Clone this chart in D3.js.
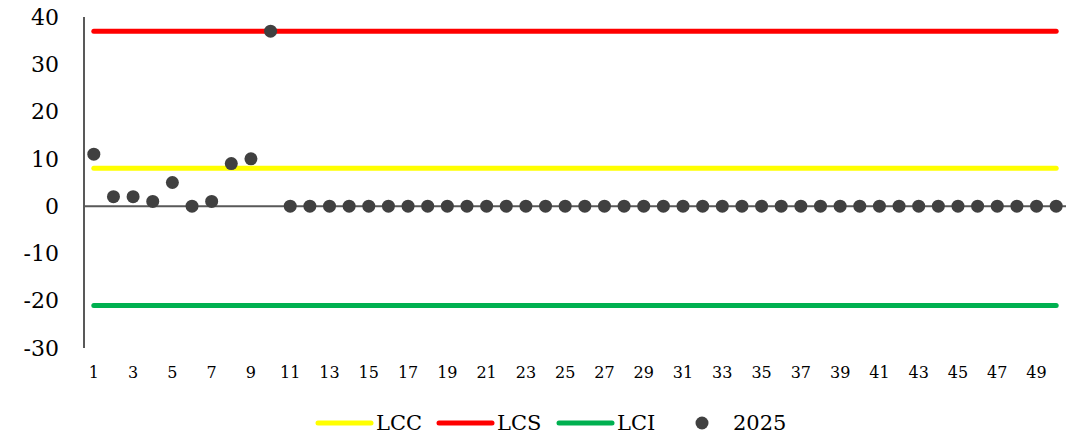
<!DOCTYPE html>
<html><head><meta charset="utf-8">
<script src="https://cdn.jsdelivr.net/npm/d3@7"></script>
<style>body{margin:0;background:#fff}svg{display:block}</style>
</head><body>
<svg id="c" width="1078" height="438"></svg>
<script>
const categories = d3.range(1, 51).map(String);
const values2025 = [11,2,2,1,5,0,1,9,10,37, 0,0,0,0,0,0,0,0,0,0, 0,0,0,0,0,0,0,0,0,0, 0,0,0,0,0,0,0,0,0,0, 0,0,0,0,0,0,0,0,0,0];
const lcc = 8, lcs = 37, lci = -21;
const yTicks = [-30,-20,-10,0,10,20,30,40];
const xTickLabels = categories.filter((d,i)=>i%2===0);

const svg = d3.select("#c");
const font = "'DejaVu Serif', 'Liberation Serif', serif";
const x = d3.scaleBand().domain(categories).range([84, 1066]);
const y = d3.scaleLinear().domain([-30, 40]).range([348, 17]);
const cx = d => x(d) + x.bandwidth()/2;

// y axis line
svg.append("line").attr("x1",84).attr("x2",84).attr("y1",y(40)).attr("y2",y(-30))
  .attr("stroke","#595959").attr("stroke-width",2);
// y labels
svg.selectAll(".yl").data(yTicks).join("text")
  .attr("x",59).attr("y",d=>y(d)).attr("dy","0.35em").attr("text-anchor","end")
  .attr("font-family",font).attr("font-size",22).attr("fill","#000").text(d=>d);
// zero line
svg.append("line").attr("x1",84).attr("x2",1066).attr("y1",y(0)).attr("y2",y(0))
  .attr("stroke","#595959").attr("stroke-width",2);
// x labels
svg.selectAll(".xl").data(xTickLabels).join("text")
  .attr("x",d=>cx(d)).attr("y",378).attr("text-anchor","middle")
  .attr("font-family",font).attr("font-size",16).attr("fill","#000").text(d=>d);

const limits = [{v:lcc,c:"#FFFF00"},{v:lcs,c:"#FF0000"},{v:lci,c:"#00B050"}];
svg.selectAll(".lim").data(limits).join("line")
  .attr("x1",cx(categories[0])).attr("x2",cx(categories[categories.length-1]))
  .attr("y1",d=>y(d.v)).attr("y2",d=>y(d.v))
  .attr("stroke",d=>d.c).attr("stroke-width",5).attr("stroke-linecap","round");

svg.selectAll(".pt").data(values2025).join("circle")
  .attr("cx",(d,i)=>cx(categories[i])).attr("cy",d=>y(d)).attr("r",6.5)
  .attr("fill","#404040");

// legend
const leg = [{t:"LCC",c:"#FFFF00",x:318},{t:"LCS",c:"#FF0000",x:439},{t:"LCI",c:"#00B050",x:559}];
leg.forEach(l=>{
  svg.append("line").attr("x1",l.x).attr("x2",l.x+53).attr("y1",423).attr("y2",423)
    .attr("stroke",l.c).attr("stroke-width",5).attr("stroke-linecap","round");
  svg.append("text").attr("x",l.x+58).attr("y",423).attr("dy","0.35em")
    .attr("font-family",font).attr("font-size",21).text(l.t);
});
svg.append("circle").attr("cx",702).attr("cy",423).attr("r",6.5).attr("fill","#404040");
svg.append("text").attr("x",733).attr("y",423).attr("dy","0.35em")
  .attr("font-family",font).attr("font-size",21).text("2025");
</script>
</body></html>
